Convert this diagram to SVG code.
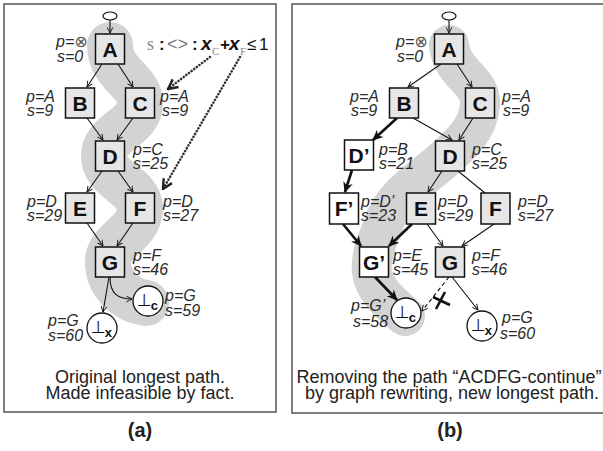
<svg xmlns="http://www.w3.org/2000/svg" width="603" height="451" viewBox="0 0 603 451">
  <style>
    .frame { fill: none; stroke: #555; stroke-width: 1.5; }
    .band { fill: none; stroke: #d3d3d3; stroke-linecap: round; stroke-linejoin: round; }
    .box { fill: #e6e6e6; stroke: #111; stroke-width: 1.5; }
    .box.new { fill: #fff; }
    .nm { font-family: "Liberation Sans", Arial, sans-serif; font-weight: bold; font-size: 21px; fill: #111; text-anchor: middle; }
    .lbl { font-family: "Liberation Sans", Arial, sans-serif; font-style: italic; font-size: 16px; fill: #2a2a2a; }
    .sym { font-family: "DejaVu Sans", sans-serif; font-style: normal; fill: #555; }
    .term { fill: #fff; stroke: #111; stroke-width: 1.3; }
    .bot { font-family: "DejaVu Sans", sans-serif; font-size: 17px; fill: #111; }
    .sub { font-family: "Liberation Sans", Arial, sans-serif; font-weight: bold; font-size: 13px; }
    .e { fill: none; stroke: #111; stroke-width: 1.1; marker-end: url(#ah); }
    .e.plain { marker-end: none; }
    .e.thick { stroke-width: 2.6; marker-end: url(#aht); }
    .e.dash { stroke-dasharray: 4 3; }
    .dot { fill: none; stroke: #333; stroke-width: 2.6; stroke-linecap: round; stroke-dasharray: 0.1 3.2; marker-end: url(#ahd); }
    .cap { font-family: "Liberation Sans", Arial, sans-serif; font-size: 18px; fill: #222; text-anchor: middle; }
    .tag { font-family: "Liberation Sans", Arial, sans-serif; font-weight: bold; font-size: 20px; fill: #222; text-anchor: middle; }
    .f { font-family: "Liberation Sans", Arial, sans-serif; font-size: 17px; fill: #111; }
    .fs { font-family: "Liberation Serif", "Times New Roman", serif; fill: #888; }
  </style>
  <defs>
    <marker id="ah" viewBox="0 0 10 10" refX="9" refY="5" markerWidth="7" markerHeight="7" markerUnits="userSpaceOnUse" orient="auto">
      <path d="M1,1 L9,5 L1,9" fill="none" stroke="#111" stroke-width="1.3"/>
    </marker>
    <marker id="aht" viewBox="0 0 10 10" refX="9" refY="5" markerWidth="11" markerHeight="11" markerUnits="userSpaceOnUse" orient="auto">
      <path d="M0,0.5 L10,5 L0,9.5 L3,5 Z" fill="#111"/>
    </marker>
    <marker id="ahd" viewBox="0 0 10 10" refX="9" refY="5" markerWidth="12" markerHeight="12" markerUnits="userSpaceOnUse" orient="auto">
      <path d="M1,1 L9,5 L1,9" fill="none" stroke="#222" stroke-width="2"/>
    </marker>
  </defs>

  <!-- panel frames -->
  <rect class="frame" x="4" y="4" width="272" height="408"/>
  <path class="frame" d="M604,4 L292,4 L292,413 L604,413"/>

  <!-- highlighted paths -->
  <path class="band" stroke-width="46" d="M110,45 C110,75 140,80 140,103 C140,128 104,132 104,156 C104,180 140,186 140,208 C140,234 108,240 108,262 C108,283 125,300 146,303"/>
  <path class="band" stroke-width="40" d="M449,45 C452,75 482,80 480,105 C478,130 460,145 441,162 C420,180 395,195 385,220 C378,240 370,255 372,272 C374,290 392,305 405,316"/>

  <!-- connectors -->
  <g id="connectors">
    <!-- panel a -->
    <path class="e" d="M110,20 L110,33"/>
    <path class="e" d="M102,64 L87,87"/>
    <path class="e" d="M118,64 L133,87"/>
    <path class="e" d="M87,118 L103,140"/>
    <path class="e" d="M133,118 L117,140"/>
    <path class="e" d="M102,171 L87,192"/>
    <path class="e" d="M118,171 L133,192"/>
    <path class="e" d="M87,223 L103,246"/>
    <path class="e" d="M133,223 L117,246"/>
    <path class="e" d="M109,277 L103,312"/>
    <path class="e" d="M110,277 C110,294 118,299 132,299"/>
    <path class="dot" d="M210,57 L168,89"/>
    <path class="dot" d="M240,57 L163,189"/>
    <!-- panel b -->
    <path class="e" d="M449,20 L449,33"/>
    <path class="e" d="M441,64 L408,87"/>
    <path class="e" d="M457,64 L472,87"/>
    <path class="e thick" d="M397,118 L373,140"/>
    <path class="e" d="M413,118 L452,140"/>
    <path class="e" d="M473,118 L459,140"/>
    <path class="e thick" d="M352,170 L345,192"/>
    <path class="e" d="M442,171 L428,192"/>
    <path class="e plain" d="M458,171 L485,193"/>
    <path class="e thick" d="M343,224 L361,246"/>
    <path class="e thick" d="M412,224 L389,246"/>
    <path class="e" d="M427,224 L443,246"/>
    <path class="e" d="M494,224 L462,246"/>
    <path class="e thick" d="M375,277 L397,300"/>
    <path class="e dash" d="M449,277 L422,311"/>
    <path class="e" d="M452,277 L478,310"/>
    <path d="M445,292 L436,309 M433,297 L450,305" stroke="#111" stroke-width="2.6" fill="none"/>
  </g>

  <!-- panel a nodes -->
  <g id="a-start"><ellipse cx="110" cy="16" rx="7" ry="4" fill="#fff" stroke="#111" stroke-width="1.2"/></g>
  <g id="a-A">
    <rect class="box" x="95.5" y="34" width="29" height="30"/>
    <text class="nm" x="110" y="56.5">A</text>
    <text class="lbl"><tspan x="56" y="47">p=<tspan class="sym">⊗</tspan></tspan><tspan x="57" y="62">s=0</tspan></text>
  </g>
  <g id="a-B">
    <rect class="box" x="65.5" y="88" width="29" height="30"/>
    <text class="nm" x="80" y="110.5">B</text>
    <text class="lbl"><tspan x="26" y="102">p=A</tspan><tspan x="27" y="116">s=9</tspan></text>
  </g>
  <g id="a-C">
    <rect class="box" x="125.5" y="88" width="29" height="30"/>
    <text class="nm" x="140" y="110.5">C</text>
    <text class="lbl"><tspan x="160" y="102">p=A</tspan><tspan x="162" y="116">s=9</tspan></text>
  </g>
  <g id="a-D">
    <rect class="box" x="95.5" y="141" width="29" height="30"/>
    <text class="nm" x="110" y="163.5">D</text>
    <text class="lbl"><tspan x="133" y="155">p=C</tspan><tspan x="133" y="169">s=25</tspan></text>
  </g>
  <g id="a-E">
    <rect class="box" x="65.5" y="193" width="29" height="30"/>
    <text class="nm" x="80" y="215.5">E</text>
    <text class="lbl"><tspan x="27" y="207">p=D</tspan><tspan x="27" y="221">s=29</tspan></text>
  </g>
  <g id="a-F">
    <rect class="box" x="125.5" y="193" width="29" height="30"/>
    <text class="nm" x="140" y="215.5">F</text>
    <text class="lbl"><tspan x="163" y="207">p=D</tspan><tspan x="163" y="221">s=27</tspan></text>
  </g>
  <g id="a-G">
    <rect class="box" x="95.5" y="247" width="29" height="30"/>
    <text class="nm" x="110" y="269.5">G</text>
    <text class="lbl"><tspan x="133" y="261">p=F</tspan><tspan x="133" y="275">s=46</tspan></text>
  </g>
  <g id="a-cont">
    <circle class="term" cx="148" cy="301" r="15"/>
    <text class="bot" x="137" y="306">⊥<tspan class="sub" dx="-1" dy="4">c</tspan></text>
    <text class="lbl"><tspan x="165" y="301">p=G</tspan><tspan x="165" y="316">s=59</tspan></text>
  </g>
  <g id="a-exit">
    <circle class="term" cx="102" cy="328" r="15"/>
    <text class="bot" x="91" y="333">⊥<tspan class="sub" dx="-1" dy="4">x</tspan></text>
    <text class="lbl"><tspan x="48" y="326">p=G</tspan><tspan x="48" y="341">s=60</tspan></text>
  </g>
  <g id="a-fact">
    <text class="f" y="50"><tspan class="fs" x="147" font-size="18">s</tspan><tspan x="159" font-weight="bold">:</tspan><tspan x="167" fill="#777" font-size="18">&lt;&gt;</tspan><tspan x="192" font-weight="bold">:</tspan><tspan x="201" font-weight="bold" font-style="italic" font-size="19">x</tspan><tspan class="fs" x="212" y="55" font-size="11">C</tspan><tspan x="220" y="50" font-weight="bold">+</tspan><tspan x="229" font-weight="bold" font-style="italic" font-size="19">x</tspan><tspan class="fs" x="240" y="55" font-size="11">F</tspan><tspan x="247" y="50">≤</tspan><tspan x="259">1</tspan></text>
  </g>

  <!-- panel b nodes -->
  <g id="b-start"><ellipse cx="449" cy="16" rx="7" ry="4" fill="#fff" stroke="#111" stroke-width="1.2"/></g>
  <g id="b-A">
    <rect class="box" x="434.5" y="34" width="29" height="30"/>
    <text class="nm" x="449" y="56.5">A</text>
    <text class="lbl"><tspan x="396" y="47">p=<tspan class="sym">⊗</tspan></tspan><tspan x="397" y="62">s=0</tspan></text>
  </g>
  <g id="b-B">
    <rect class="box" x="389.5" y="88" width="29" height="30"/>
    <text class="nm" x="404" y="110.5">B</text>
    <text class="lbl"><tspan x="350" y="102">p=A</tspan><tspan x="351" y="116">s=9</tspan></text>
  </g>
  <g id="b-C">
    <rect class="box" x="465.5" y="88" width="29" height="30"/>
    <text class="nm" x="480" y="110.5">C</text>
    <text class="lbl"><tspan x="502" y="102">p=A</tspan><tspan x="503" y="116">s=9</tspan></text>
  </g>
  <g id="b-D2">
    <rect class="box new" x="344.5" y="140" width="29" height="30"/>
    <text class="nm" x="359" y="162.5">D’</text>
    <text class="lbl"><tspan x="379" y="155">p=B</tspan><tspan x="379" y="169">s=21</tspan></text>
  </g>
  <g id="b-D">
    <rect class="box" x="435.5" y="141" width="29" height="30"/>
    <text class="nm" x="450" y="163.5">D</text>
    <text class="lbl"><tspan x="472" y="155">p=C</tspan><tspan x="472" y="169">s=25</tspan></text>
  </g>
  <g id="b-F2">
    <rect class="box new" x="329.5" y="193" width="29" height="31"/>
    <text class="nm" x="344" y="216">F’</text>
    <text class="lbl"><tspan x="361" y="207">p=D’</tspan><tspan x="361" y="221">s=23</tspan></text>
  </g>
  <g id="b-E">
    <rect class="box" x="406.5" y="193" width="29" height="31"/>
    <text class="nm" x="421" y="216">E</text>
    <text class="lbl"><tspan x="438" y="207">p=D</tspan><tspan x="438" y="221">s=29</tspan></text>
  </g>
  <g id="b-F">
    <rect class="box" x="481" y="193" width="29" height="31"/>
    <text class="nm" x="495.5" y="216">F</text>
    <text class="lbl"><tspan x="518" y="207">p=D</tspan><tspan x="518" y="221">s=27</tspan></text>
  </g>
  <g id="b-G2">
    <rect class="box new" x="359.5" y="247" width="29" height="30"/>
    <text class="nm" x="374" y="269.5">G’</text>
    <text class="lbl"><tspan x="393" y="261">p=E</tspan><tspan x="393" y="275">s=45</tspan></text>
  </g>
  <g id="b-G">
    <rect class="box" x="435.5" y="247" width="29" height="30"/>
    <text class="nm" x="450" y="269.5">G</text>
    <text class="lbl"><tspan x="472" y="261">p=F</tspan><tspan x="472" y="275">s=46</tspan></text>
  </g>
  <g id="b-cont">
    <circle class="term" cx="406" cy="313" r="15"/>
    <text class="bot" x="395" y="318">⊥<tspan class="sub" dx="-1" dy="4">c</tspan></text>
    <text class="lbl"><tspan x="351" y="311">p=G’</tspan><tspan x="353" y="327">s=58</tspan></text>
  </g>
  <g id="b-exit">
    <circle class="term" cx="482" cy="326" r="15"/>
    <text class="bot" x="471" y="331">⊥<tspan class="sub" dx="-1" dy="4">x</tspan></text>
    <text class="lbl"><tspan x="502" y="323">p=G</tspan><tspan x="500" y="339">s=60</tspan></text>
  </g>

  <!-- captions -->
  <text class="cap"><tspan x="140" y="383">Original longest path.</tspan><tspan x="140" y="399">Made infeasible by fact.</tspan></text>
  <text class="cap"><tspan x="449" y="383">Removing the path “ACDFG-continue”</tspan><tspan x="452" y="399">by graph rewriting, new longest path.</tspan></text>
  <text class="tag" x="140" y="437">(a)</text>
  <text class="tag" x="450" y="437">(b)</text>
</svg>
